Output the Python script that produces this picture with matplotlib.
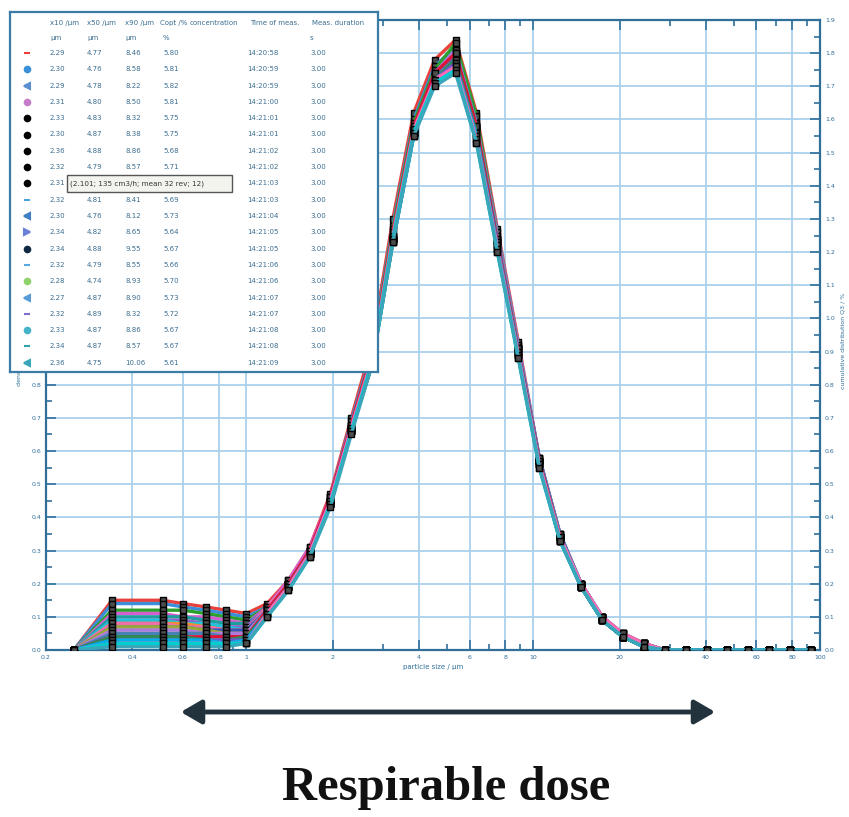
import matplotlib.pyplot as plt
from matplotlib.patches import Rectangle, FancyArrowPatch
from matplotlib.ticker import FixedLocator, NullFormatter

# particle size classes (um)
sizes = [0.25, 0.34, 0.51, 0.60, 0.72, 0.85, 1.00, 1.18, 1.40, 1.66, 1.96, 2.32,
         2.74, 3.24, 3.83, 4.53, 5.36, 6.34, 7.50, 8.87, 10.5, 12.4, 14.7, 17.4,
         20.5, 24.3, 28.7, 34.0, 40.2, 47.5, 56.2, 66.5, 78.6, 93.0]

# density distribution q3lg of the 20 measurements
q3 = [
    [0, .15, .15, .14, .13, .12, .11, .14, .21, .31, .47, .70, .92, 1.30, 1.62, 1.78, 1.84, 1.62, 1.27, .93, .58, .35, .20, .10, .05, .02, 0, 0, 0, 0, 0, 0, 0, 0],
    [0, .14, .14, .13, .12, .11, .10, .13, .20, .30, .46, .69, .90, 1.28, 1.60, 1.76, 1.82, 1.60, 1.26, .92, .58, .35, .20, .10, .04, .02, 0, 0, 0, 0, 0, 0, 0, 0],
    [0, .12, .12, .12, .11, .10, .09, .13, .20, .30, .45, .68, .89, 1.27, 1.59, 1.75, 1.83, 1.61, 1.25, .91, .57, .34, .19, .09, .04, .01, 0, 0, 0, 0, 0, 0, 0, 0],
    [0, .11, .11, .10, .10, .09, .08, .13, .21, .31, .46, .68, .88, 1.25, 1.57, 1.73, 1.80, 1.59, 1.25, .92, .58, .35, .20, .10, .05, .02, 0, 0, 0, 0, 0, 0, 0, 0],
    [0, .10, .10, .10, .09, .08, .08, .12, .20, .30, .45, .67, .88, 1.25, 1.57, 1.74, 1.81, 1.59, 1.24, .91, .57, .34, .20, .10, .04, .02, 0, 0, 0, 0, 0, 0, 0, 0],
    [0, .09, .09, .09, .08, .07, .07, .13, .20, .29, .44, .66, .87, 1.24, 1.56, 1.72, 1.79, 1.58, 1.24, .91, .57, .34, .20, .10, .04, .01, 0, 0, 0, 0, 0, 0, 0, 0],
    [0, .09, .09, .08, .08, .07, .06, .12, .19, .29, .44, .66, .87, 1.24, 1.56, 1.73, 1.80, 1.57, 1.23, .90, .56, .33, .19, .09, .04, .01, 0, 0, 0, 0, 0, 0, 0, 0],
    [0, .08, .08, .08, .07, .06, .06, .12, .20, .30, .45, .67, .88, 1.25, 1.57, 1.73, 1.79, 1.57, 1.23, .90, .57, .34, .20, .10, .04, .02, 0, 0, 0, 0, 0, 0, 0, 0],
    [0, .08, .08, .07, .07, .06, .06, .13, .20, .30, .45, .67, .87, 1.24, 1.56, 1.72, 1.78, 1.56, 1.22, .90, .57, .34, .20, .10, .05, .02, 0, 0, 0, 0, 0, 0, 0, 0],
    [0, .07, .07, .07, .06, .06, .06, .12, .19, .29, .44, .66, .86, 1.23, 1.55, 1.72, 1.79, 1.57, 1.23, .91, .57, .34, .19, .09, .04, .01, 0, 0, 0, 0, 0, 0, 0, 0],
    [0, .07, .07, .07, .06, .05, .05, .12, .19, .29, .44, .66, .86, 1.23, 1.56, 1.73, 1.80, 1.58, 1.24, .91, .57, .34, .19, .09, .04, .01, 0, 0, 0, 0, 0, 0, 0, 0],
    [0, .06, .06, .06, .05, .05, .05, .12, .20, .30, .45, .67, .87, 1.24, 1.57, 1.74, 1.81, 1.58, 1.24, .91, .57, .34, .20, .10, .04, .02, 0, 0, 0, 0, 0, 0, 0, 0],
    [0, .05, .05, .05, .05, .04, .04, .12, .19, .29, .44, .66, .87, 1.24, 1.57, 1.73, 1.80, 1.58, 1.24, .91, .58, .35, .20, .10, .05, .02, 0, 0, 0, 0, 0, 0, 0, 0],
    [0, .04, .04, .04, .04, .04, .04, .12, .20, .30, .46, .68, .89, 1.26, 1.58, 1.74, 1.80, 1.58, 1.23, .90, .57, .34, .19, .09, .04, .01, 0, 0, 0, 0, 0, 0, 0, 0],
    [0, .04, .04, .04, .03, .03, .04, .11, .19, .29, .44, .66, .87, 1.24, 1.56, 1.72, 1.78, 1.56, 1.22, .89, .56, .33, .19, .09, .04, .01, 0, 0, 0, 0, 0, 0, 0, 0],
    [0, .03, .03, .03, .03, .03, .03, .11, .19, .29, .45, .67, .87, 1.24, 1.56, 1.72, 1.77, 1.55, 1.22, .89, .56, .33, .19, .09, .04, .01, 0, 0, 0, 0, 0, 0, 0, 0],
    [0, .03, .03, .03, .03, .02, .03, .11, .19, .29, .44, .66, .86, 1.23, 1.55, 1.71, 1.76, 1.55, 1.21, .89, .56, .33, .19, .09, .04, .01, 0, 0, 0, 0, 0, 0, 0, 0],
    [0, .02, .02, .02, .02, .02, .02, .11, .19, .29, .45, .67, .88, 1.25, 1.57, 1.72, 1.76, 1.54, 1.21, .89, .56, .34, .20, .10, .05, .02, 0, 0, 0, 0, 0, 0, 0, 0],
    [0, .02, .02, .02, .02, .02, .02, .10, .18, .28, .44, .66, .87, 1.24, 1.56, 1.71, 1.75, 1.53, 1.20, .88, .55, .33, .19, .09, .04, .01, 0, 0, 0, 0, 0, 0, 0, 0],
    [0, .01, .01, .01, .01, .01, .02, .10, .18, .28, .43, .65, .86, 1.23, 1.55, 1.70, 1.74, 1.53, 1.20, .88, .55, .33, .19, .09, .04, .01, 0, 0, 0, 0, 0, 0, 0, 0],
]

line_colors = ['#e8413c', '#3a8fd8', '#2ca02c', '#d45fd0', '#1f9e9e', '#8e5fc9', '#22c3d6',
               '#f28e2b', '#f06fa8', '#3557b7', '#9aa83a', '#b07ad8', '#4682b4', '#dc143c',
               '#2e8b57', '#6a5acd', '#00aee8', '#ff69b4', '#00ced1', '#3aa6b9']

# table inset
x10 = ['2.29', '2.30', '2.29', '2.31', '2.33', '2.30', '2.36', '2.32', '2.31', '2.32',
       '2.30', '2.34', '2.34', '2.32', '2.28', '2.27', '2.32', '2.33', '2.34', '2.36']
x50 = ['4.77', '4.76', '4.78', '4.80', '4.83', '4.87', '4.88', '4.79', '4.85', '4.81',
       '4.76', '4.82', '4.88', '4.79', '4.74', '4.87', '4.89', '4.87', '4.87', '4.75']
x90 = ['8.46', '8.58', '8.22', '8.50', '8.32', '8.38', '8.86', '8.57', '8.43', '8.41',
       '8.12', '8.65', '9.55', '8.55', '8.93', '8.90', '8.32', '8.86', '8.57', '10.06']
copt = ['5.80', '5.81', '5.82', '5.81', '5.75', '5.75', '5.68', '5.71', '5.70', '5.69',
        '5.73', '5.64', '5.67', '5.66', '5.70', '5.73', '5.72', '5.67', '5.67', '5.61']
meas_time = ['14:20:58', '14:20:59', '14:20:59', '14:21:00', '14:21:01', '14:21:01', '14:21:02',
             '14:21:02', '14:21:03', '14:21:03', '14:21:04', '14:21:05', '14:21:05', '14:21:06',
             '14:21:06', '14:21:07', '14:21:07', '14:21:08', '14:21:08', '14:21:09']
duration = ['3.00'] * 20
row_markers = ['_', 'o', '<', 'o', 'o', 'o', 'o', 'o', 'o', '_',
               '<', '>', 'o', '_', 'o', '<', '_', 'o', '_', '<']
row_marker_colors = ['#e8413c', '#3a8fd8', '#5b8fd0', '#c77cc9', 'black', 'black', 'black',
                     'black', 'black', '#4aa3df', '#3d7fc1', '#6a7fd6', '#102a43', '#59a9e0',
                     '#8fd16a', '#5a9bd5', '#7b6fd0', '#46b3c8', '#2fa3a8', '#3aa6b9']
callout_row = 8  # this row sits under the tooltip box

xticks_major = [0.2, 0.4, 0.6, 0.8, 1, 2, 4, 6, 8, 10, 20, 40, 60, 80, 100]
xtick_labels = ['0.2', '0.4', '0.6', '0.8', '1', '2', '4', '6', '8', '10', '20', '40', '60', '80', '100']
xticks_minor = [0.3, 0.5, 0.7, 0.9, 3, 5, 7, 9, 30, 50, 70, 90]
yticks = [i / 10 for i in range(20)]

AX_BLUE = '#2f6f9a'
GRID_BLUE = '#a8d1ea'

fig = plt.figure(figsize=(8.49, 8.17), dpi=100)
ax = fig.add_axes([46 / 849, 1 - 650 / 817, 774 / 849, 630 / 817])

for ys, c in zip(q3, line_colors):
    ax.plot(sizes, ys, color=c, lw=2.4, marker='s', ms=4.5, mfc='0.3',
            mec='black', mew=1.0, zorder=3)

ax.set_xscale('log')
ax.set_xlim(0.2, 100)
ax.set_ylim(0, 1.9)
ax.xaxis.set_major_locator(FixedLocator(xticks_major))
ax.xaxis.set_minor_locator(FixedLocator(xticks_minor))
ax.set_xticklabels(xtick_labels)
ax.xaxis.set_minor_formatter(NullFormatter())
ax.set_yticks(yticks)
ax.set_yticklabels(['%.1f' % v for v in yticks])
ax.set_yticks([v + 0.05 for v in yticks[:-1]], minor=True)

ax.grid(True, which='major', color=GRID_BLUE, lw=1.3, zorder=0)
for s in ax.spines.values():
    s.set_color(AX_BLUE)
    s.set_linewidth(1.6)
ax.tick_params(which='both', direction='in', colors=AX_BLUE, labelsize=4.5,
               top=True, right=True, labelright=True, width=1.2)
ax.tick_params(which='major', length=7)
ax.tick_params(which='minor', length=4)
ax.set_xlabel('particle size / µm', fontsize=5, color=AX_BLUE, labelpad=3)
ax.text(-0.034, 0.48, 'density distribution q3lg', transform=ax.transAxes,
        rotation=90, ha='center', va='center', fontsize=4.5, color=AX_BLUE)
ax.text(1.03, 0.49, 'cumulative distribution Q3 / %', transform=ax.transAxes,
        rotation=90, ha='center', va='center', fontsize=4.5, color=AX_BLUE)

# results table drawn over the upper left of the plot
tab = fig.add_axes([10 / 849, 1 - 372 / 817, 368 / 849, 360 / 817], zorder=5)
tab.set_xlim(0, 368)
tab.set_ylim(360, 0)
tab.set_xticks([])
tab.set_yticks([])
tab.set_facecolor('white')
for s in tab.spines.values():
    s.set_color('#3a7ca5')
    s.set_linewidth(1.6)

TXT = '#3c6e91'
fs = 5
header = [(40, 'x10 /µm'), (77, 'x50 /µm'), (115, 'x90 /µm'), (150, 'Copt /%'),
          (180, 'concentration'), (240, 'Time of meas.'), (302, 'Meas. duration')]
for x, t in header:
    tab.text(x, 11, t, fontsize=fs, color=TXT, va='center')
for x, t in [(40, 'µm'), (77, 'µm'), (115, 'µm'), (153, '%'), (300, 's')]:
    tab.text(x, 26, t, fontsize=fs, color=TXT, va='center')

for i in range(20):
    y = 41 + 16.3 * i
    tab.plot(17, y, marker=row_markers[i], color=row_marker_colors[i], ms=4, mew=1.5)
    tab.text(40, y, x10[i], fontsize=fs, color=TXT, va='center')
    if i != callout_row:
        tab.text(77, y, x50[i], fontsize=fs, color=TXT, va='center')
        tab.text(115, y, x90[i], fontsize=fs, color=TXT, va='center')
        tab.text(153, y, copt[i], fontsize=fs, color=TXT, va='center')
    tab.text(237, y, meas_time[i], fontsize=fs, color=TXT, va='center')
    tab.text(300, y, duration[i], fontsize=fs, color=TXT, va='center')

tab.add_patch(Rectangle((57, 163), 165, 17, facecolor='#f4f4ee', edgecolor='#555555',
                        lw=1.0, zorder=6))
tab.text(60, 171.5, '(2.101; 135 cm3/h; mean 32 rev; 12)', fontsize=5.2,
         color='#333333', va='center', zorder=7)

# respirable range arrow and caption
arrow = FancyArrowPatch((178 / 849, 1 - 712 / 817), (718 / 849, 1 - 712 / 817),
                        transform=fig.transFigure,
                        arrowstyle='<|-|>,head_length=6.2,head_width=3.6',
                        color='#22333d', lw=3.5, mutation_scale=2)
fig.patches.append(arrow)
fig.text(446 / 849, 1 - 800 / 817, 'Respirable dose', ha='center', va='baseline',
         fontsize=35, fontweight='bold', family='Liberation Serif', color='#111111')

fig.savefig('out.png', dpi=100)
